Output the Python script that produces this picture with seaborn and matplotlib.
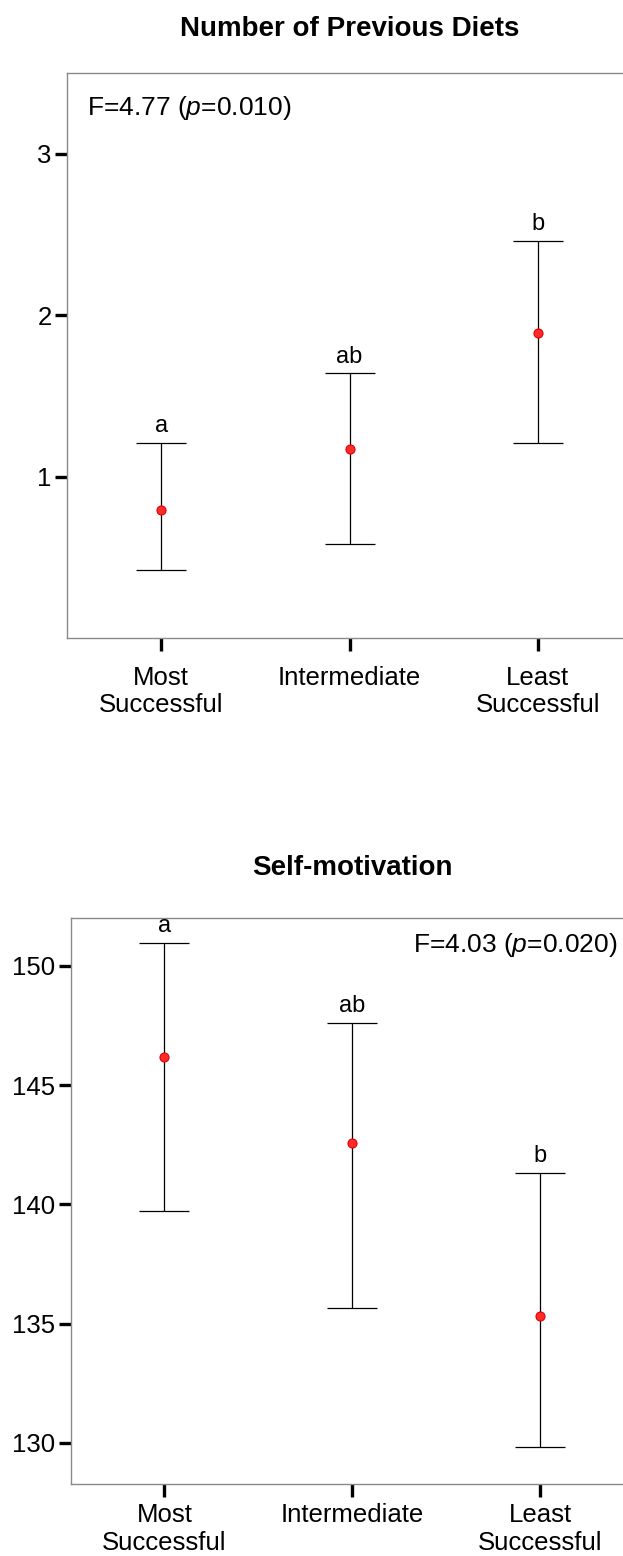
import matplotlib
matplotlib.use("Agg")
import matplotlib.pyplot as plt
import seaborn as sns
import numpy as np
import pandas as pd

# Groups on the x axis
groups = ["Most\nSuccessful", "Intermediate", "Least\nSuccessful"]

# Number of previous diets: mean with lower / upper interval bounds
diets_mean = [0.79, 1.17, 1.89]
diets_low = [0.42, 0.585, 1.21]
diets_high = [1.21, 1.64, 2.46]
diets_letters = ["a", "ab", "b"]
diets_ticks = [1, 2, 3]

# Self-motivation: mean with lower / upper interval bounds
motiv_mean = [146.19, 142.58, 135.33]
motiv_low = [139.7, 135.67, 129.84]
motiv_high = [150.96, 147.6, 141.32]
motiv_letters = ["a", "ab", "b"]
motiv_ticks = [130, 135, 140, 145, 150]

sns.set_theme(style="ticks")
plt.rcParams["font.family"] = ["Liberation Sans", "DejaVu Sans"]
plt.rcParams["text.color"] = "black"
plt.rcParams["axes.titlecolor"] = "black"
plt.rcParams["mathtext.fontset"] = "custom"
plt.rcParams["mathtext.rm"] = "Liberation Sans"
plt.rcParams["mathtext.it"] = "Liberation Sans:italic"

W, H = 623, 1556
fig = plt.figure(figsize=(W / 100, H / 100), dpi=100)
fig.patch.set_facecolor("white")


def panel(rect, means, low, high, letters, title, stat, stat_xy, stat_ha,
          ylim, yticks, title_pad, xpad):
    ax = fig.add_axes(rect)
    means = np.asarray(means)
    low = np.asarray(low)
    high = np.asarray(high)
    x = np.arange(len(groups))
    ax.errorbar(x, means, yerr=[means - low, high - means], fmt="none",
                ecolor="black", elinewidth=0.9, capsize=18, capthick=0.9,
                zorder=2)
    df = pd.DataFrame({"group": groups, "mean": means})
    sns.pointplot(data=df, x="group", y="mean", order=groups,
                  linestyle="none", errorbar=None, marker="o",
                  color="#ff2a2a", markersize=6.5, markeredgecolor="#e00000",
                  markeredgewidth=0.8, ax=ax, zorder=3)
    for i, (h, lab) in enumerate(zip(high, letters)):
        ax.annotate(lab, (i, h), xytext=(0, 4), textcoords="offset points",
                    ha="center", va="bottom", fontsize=17, color="black")
    ax.text(stat_xy[0], stat_xy[1], stat, transform=ax.transAxes,
            ha=stat_ha, va="center", fontsize=19, color="black")
    ax.set_xlim(-0.5, 2.5)
    ax.set_ylim(*ylim)
    ax.set_yticks(yticks)
    ax.set_yticklabels([str(t) for t in yticks])
    ax.set_xlabel("")
    ax.set_ylabel("")
    ax.set_title(title, fontsize=20, fontweight="bold", pad=title_pad,
                 color="black")
    for side in ["top", "left", "bottom"]:
        ax.spines[side].set_visible(True)
        ax.spines[side].set_color("#8a8a8a")
        ax.spines[side].set_linewidth(1.0)
    ax.spines["right"].set_visible(False)
    ax.tick_params(axis="both", which="major", direction="out", length=9,
                   width=2.4, color="black", labelsize=18.5,
                   labelcolor="black", bottom=True, left=True,
                   top=False, right=False)
    ax.tick_params(axis="x", pad=xpad)
    ax.tick_params(axis="y", pad=2)
    for lbl in ax.get_xticklabels():
        lbl.set_linespacing(1.18)
    ax.grid(False)
    ax.set_facecolor("white")
    return ax


panel([67 / W, (H - 638) / H, 565 / W, 565 / H],
      diets_mean, diets_low, diets_high, diets_letters,
      "Number of Previous Diets", "F=4.77 ($\\it{p}$=0.010)",
      (0.035, 0.938), "left", (0.0, 3.5), diets_ticks, 27, 11)

panel([70.5 / W, (H - 1484) / H, 563.5 / W, 566 / H],
      motiv_mean, motiv_low, motiv_high, motiv_letters,
      "Self-motivation", "F=4.03 ($\\it{p}$=0.020)",
      (0.971, 0.952), "right", (128.28, 152.0), motiv_ticks, 31, 5)

fig.savefig("out.png", dpi=100)
